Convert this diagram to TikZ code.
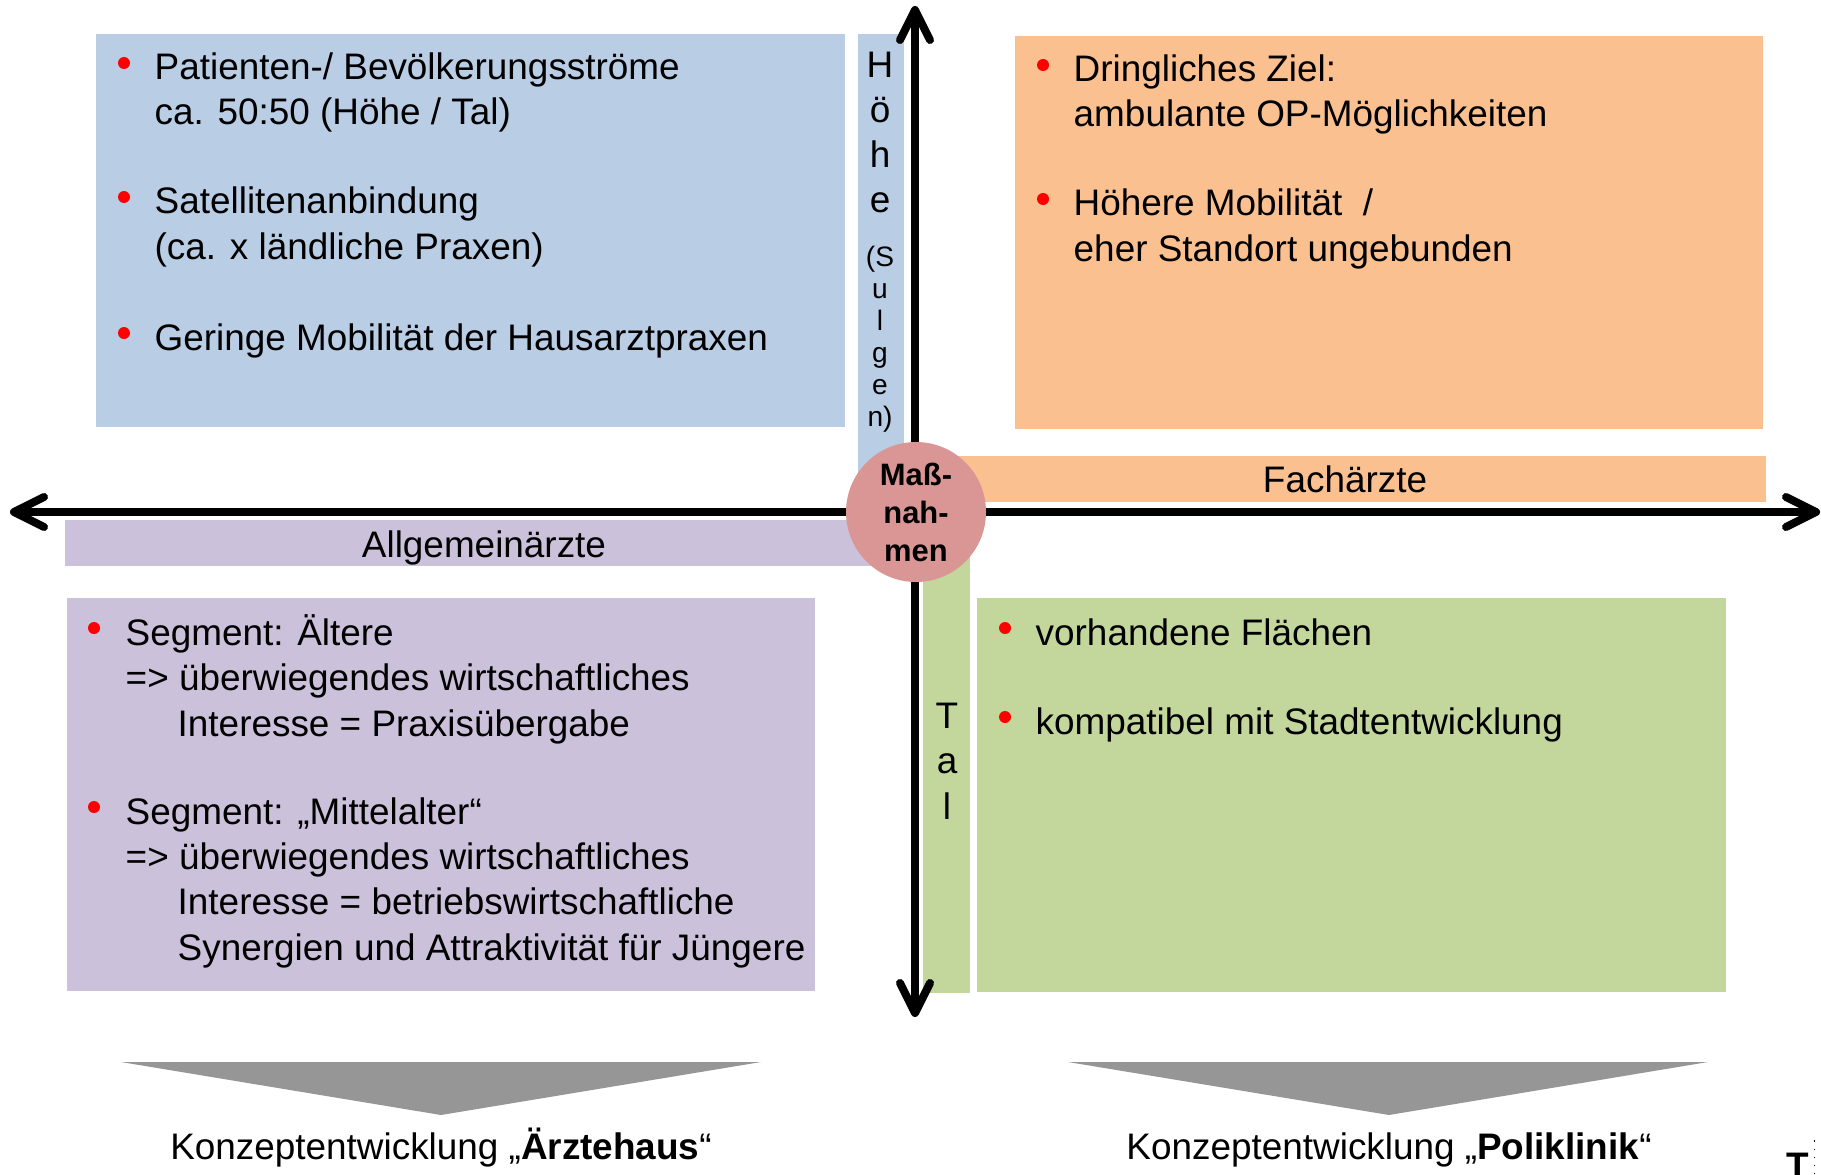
\documentclass[tikz,border=0pt]{standalone}
\usepackage{fontspec}
\setmainfont{Liberation Sans}
\usepackage{xcolor}
\usepackage{tikz}
\usetikzlibrary{arrows.meta}

\definecolor{hoehe}{HTML}{B9CDE5}
\definecolor{fach}{HTML}{FAC090}
\definecolor{allg}{HTML}{CCC1DA}
\definecolor{tal}{HTML}{C3D69B}
\definecolor{mass}{HTML}{D99694}
\definecolor{keil}{HTML}{969696}

\tikzset{
  txt/.style={inner sep=0pt, font=\fontsize{10.5}{12.85}\selectfont},
  item/.style={txt, anchor=base west, align=left},
  dot/.style={fill=red},
  achse/.style={line width=0.8mm, line cap=round,
    {Straight Barb[length=3mm,width=3mm,round]}-{Straight Barb[length=3mm,width=3mm,round]}},
}

\begin{document}
\begin{tikzpicture}[x=0.1mm, y=-0.1mm]
    \useasboundingbox (0,0) rectangle (1821,1174);
    % quadrants
    \fill[hoehe] (96,34) rectangle (845,427);
    \fill[fach] (1015,36) rectangle (1763,429);
    \fill[allg] (67,598) rectangle (815,991);
    \fill[tal] (977,598) rectangle (1726,992);
    % strips along the axes
    \fill[hoehe] (858,34) rectangle (904,500);
    \fill[fach] (930,456) rectangle (1766,502);
    \fill[allg] (65,520) rectangle (900,566);
    \fill[tal] (923,520) rectangle (970,993);
    % axes
    \coordinate (links) at (10,512);
    \coordinate (rechts) at (1820,512);
    \coordinate (oben) at (915,6);
    \coordinate (unten) at (915,1017);
    \draw[achse] (links) -- (rechts);
    \draw[achse] (unten) -- (oben);
    \node[circle, fill=mass, minimum size=14mm, inner sep=0pt, align=center,
          font=\bfseries\fontsize{8.8}{10.8}\selectfont] (mass) at (916,512) {Maß-\\nah-\\men};
    % axis labels (base = last line)
    \node[txt, anchor=base] (fachaerzte) at (1345,492) {Fachärzte};
    \node[txt, anchor=base] (allgemein) at (484,557) {Allgemeinärzte};
    \node[txt, anchor=base, align=center] (hoehelbl) at (880,213) {H\\ö\\h\\e};
    \node[inner sep=0pt, anchor=base, align=center,
          font=\fontsize{8}{9.1}\selectfont] (sulgen) at (880,426) {(S\\u\\l\\g\\e\\n)};
    \node[txt, anchor=base, align=center] (tallbl) at (947,819) {T\\a\\l};
    % Hoehe / Allgemein
    \fill[dot] (124,63) circle[radius=6];
    \fill[dot] (124,197) circle[radius=6];
    \fill[dot] (124,333) circle[radius=6];
    \node[item] (hA) at (154,125) {Patienten-/ Bevölkerungsströme\\ca. 50:50 (Höhe / Tal)};
    \node[item] (hB) at (154,259) {Satellitenanbindung\\(ca. x ländliche Praxen)};
    \node[item] (hC) at (154,350) {Geringe Mobilität der Hausarztpraxen};
    % Hoehe / Fach
    \fill[dot] (1043,65) circle[radius=6];
    \fill[dot] (1043,199) circle[radius=6];
    \node[item] (fA) at (1073,127) {Dringliches Ziel:\\ambulante OP-Möglichkeiten};
    \node[item] (fB) at (1073,261) {Höhere Mobilität\ \ /\\eher Standort ungebunden};
    % Tal / Allgemein
    \fill[dot] (94,628) circle[radius=6];
    \fill[dot] (94,807) circle[radius=6];
    \node[item] (aA) at (125,736) {Segment: Ältere\\=> überwiegendes wirtschaftliches\\
      \hspace*{5.2mm}Interesse = Praxisübergabe};
    \node[item] (aB) at (125,960) {Segment: „Mittelalter“\\=> überwiegendes wirtschaftliches\\
      \hspace*{5.2mm}Interesse = betriebswirtschaftliche\\
      \hspace*{5.2mm}Synergien und Attraktivität für Jüngere};
    % Tal / Fach
    \fill[dot] (1005,628) circle[radius=6];
    \fill[dot] (1005,717) circle[radius=6];
    \node[item] (tA) at (1035,645) {vorhandene Flächen};
    \node[item] (tB) at (1035,734) {kompatibel mit Stadtentwicklung};
    % conclusions
    \fill[keil] (121,1062) -- (761,1062) -- (441,1115) -- cycle;
    \fill[keil] (1068,1062) -- (1708,1062) -- (1389,1115) -- cycle;
    \node[txt, anchor=base] (haus) at (441,1159) {Konzeptentwicklung „\textbf{Ärztehaus}“};
    \node[txt, anchor=base] (klinik) at (1389,1159) {Konzeptentwicklung „\textbf{Poliklinik}“};
    % cut-off text box
    \node[txt, anchor=base west, font=\bfseries\fontsize{10.5}{12.5}\selectfont] (rest) at (1786,1178) {T};
    \draw[dotted, line width=0.3pt] (1814,1174) -- (1814,1141) -- (1821,1141);
\end{tikzpicture}
\end{document}
